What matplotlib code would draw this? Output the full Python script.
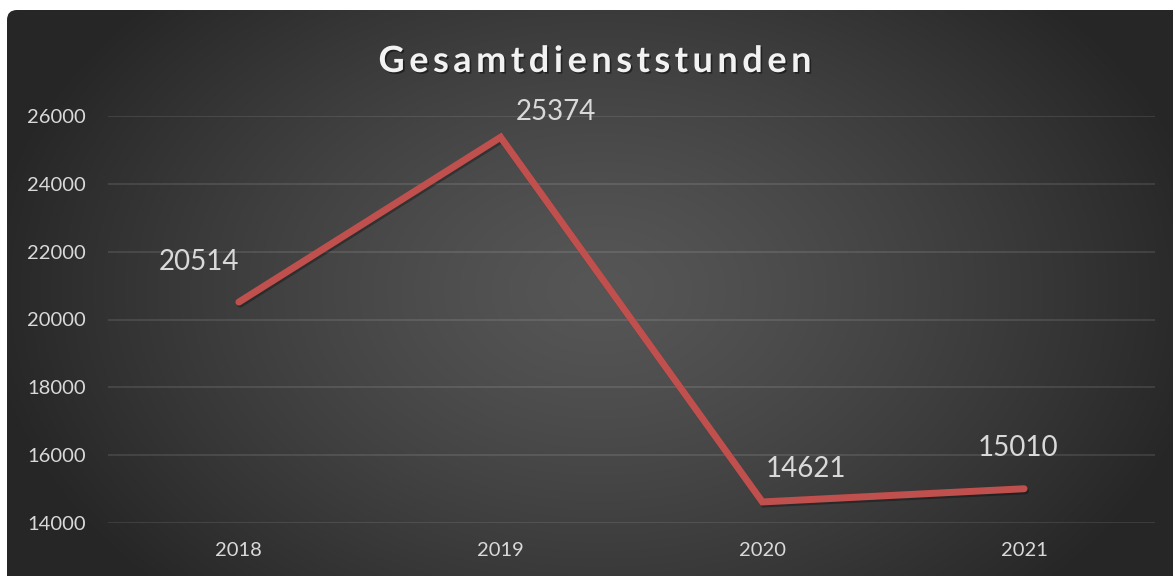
import numpy as np
import matplotlib
matplotlib.use("Agg")
import matplotlib.pyplot as plt
import matplotlib.patheffects as pe
from matplotlib.patches import FancyBboxPatch

# Daten
jahre = ["2018", "2019", "2020", "2021"]
stunden = [20514, 25374, 14621, 15010]
y_ticks = [14000, 16000, 18000, 20000, 22000, 24000, 26000]
titel = "Gesamtdienststunden"

# Versatz der Datenbeschriftungen (Pixel)
label_offsets = [(-40, 40), (55, 25), (44, 33), (-6, 41)]

W, H = 1173, 576
fig = plt.figure(figsize=(W / 100, H / 100), dpi=100)
fig.patch.set_facecolor("white")

# Hintergrund mit radialem Verlauf
bg = fig.add_axes([0, 0, 1, 1], zorder=-1)
bg.set_xlim(0, W)
bg.set_ylim(H, 0)
bg.axis("off")
xx, yy = np.meshgrid(np.arange(W), np.arange(H))
d = np.sqrt(((xx - 600) / 620.0) ** 2 + ((yy - 290) / 430.0) ** 2)
d = np.clip(d, 0, 1)
val = (86 - (86 - 38) * d ** 1.3) / 255.0
img = np.dstack([val, val, val])
box = FancyBboxPatch((7, 10), W + 20, H + 20, boxstyle="round,pad=0,rounding_size=10",
                     transform=bg.transData, facecolor="none", edgecolor="none")
bg.add_patch(box)
im = bg.imshow(img, extent=(0, W, H, 0), aspect="auto", interpolation="bilinear")
im.set_clip_path(box)

# Diagramm
ax = fig.add_axes([108 / W, (H - 523) / H, (1155 - 108) / W, (523 - 116) / H])
ax.patch.set_alpha(0)
x = np.arange(len(jahre))
ax.plot(x, stunden, color="#C0504D", lw=5, solid_capstyle="round", solid_joinstyle="miter",
        path_effects=[pe.SimpleLineShadow(offset=(1, -1.5), shadow_color="black", alpha=0.3),
                      pe.Normal()], zorder=3)

for xi, v, off in zip(x, stunden, label_offsets):
    ax.annotate(str(v), (xi, v), xytext=off, textcoords="offset pixels",
                ha="center", va="center", fontsize=20, color="#D9D9D9",
                family="Lato", zorder=4)

ax.set_xlim(-0.5, len(jahre) - 0.5)
ax.set_ylim(14000, 26000)
ax.set_xticks(x)
ax.set_xticklabels(jahre)
ax.set_yticks(y_ticks)
ax.tick_params(axis="both", length=0, colors="#D9D9D9", labelsize=14.5)
ax.tick_params(axis="y", pad=16)
ax.tick_params(axis="x", pad=14)
for lbl in ax.get_xticklabels() + ax.get_yticklabels():
    lbl.set_family("Lato")
for s in ax.spines.values():
    s.set_visible(False)
ax.grid(axis="y", color="white", alpha=0.12, lw=1.2)
ax.set_axisbelow(True)

# Titel mit Sperrung, Buchstabe für Buchstabe
renderer = fig.canvas.get_renderer()
title_size = 26
spacing = 4.5
widths = []
for ch in titel:
    t = fig.text(0, 0, ch, fontsize=title_size, fontweight="bold", family="Lato")
    widths.append(t.get_window_extent(renderer).width)
    t.remove()
total = sum(widths) + spacing * (len(titel) - 1)
cur = 595 - total / 2
for ch, w in zip(titel, widths):
    fig.text(cur / W, 1 - 72 / H, ch, fontsize=title_size, fontweight="bold", family="Lato",
             color="#F2F2F2", ha="left", va="baseline",
             path_effects=[pe.withSimplePatchShadow(offset=(1.2, -1.2), shadow_rgbFace="black", alpha=0.45)])
    cur += w + spacing

fig.savefig("out.png", dpi=100, facecolor=fig.get_facecolor())
